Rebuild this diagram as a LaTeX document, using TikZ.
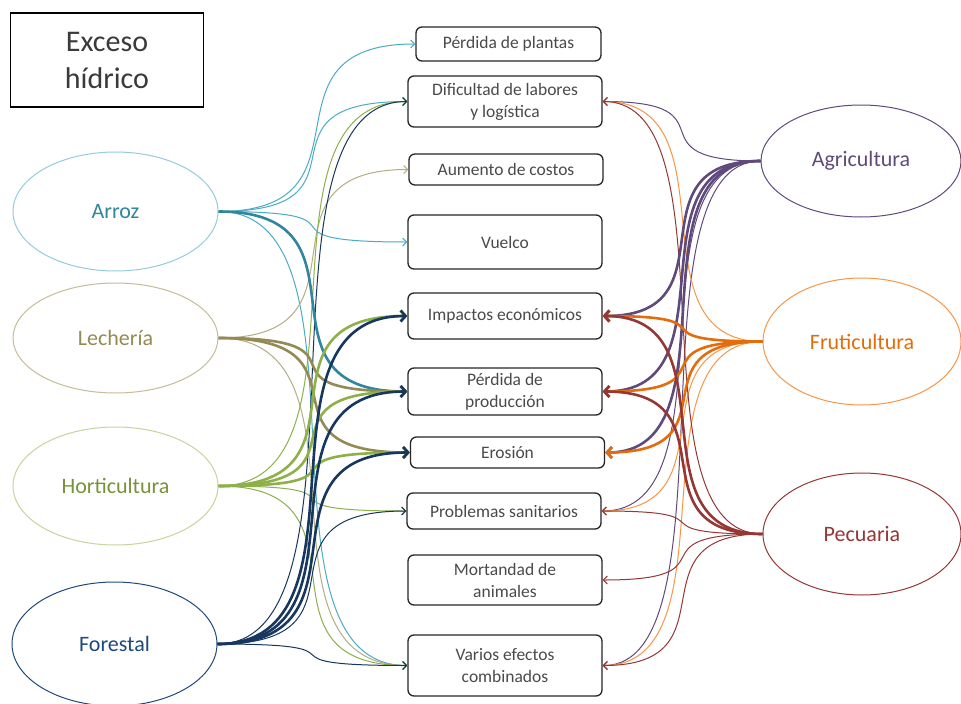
\documentclass[tikz,border=0pt]{standalone}
\usepackage{fontspec}
\setmainfont{Carlito}
\usetikzlibrary{shapes.geometric,arrows.meta}
\definecolor{cArroz}{HTML}{31859C}
\definecolor{cArrozL}{HTML}{4BACC6}
\definecolor{cArrozE}{HTML}{93CDDD}
\definecolor{cLech}{HTML}{948A54}
\definecolor{cLechL}{HTML}{B5AD85}
\definecolor{cLechE}{HTML}{C4BD97}
\definecolor{cHort}{HTML}{77933C}
\definecolor{cHortL}{HTML}{8DB048}
\definecolor{cHortE}{HTML}{C3D69B}
\definecolor{cFor}{HTML}{17375E}
\definecolor{cForT}{HTML}{1F497D}
\definecolor{cAgri}{HTML}{604A7B}
\definecolor{cFrut}{HTML}{E46C0A}
\definecolor{cFrutL}{HTML}{F79646}
\definecolor{cPec}{HTML}{953735}
\definecolor{boxc}{HTML}{262626}
\definecolor{boxtext}{HTML}{4A4A4A}
\definecolor{exc}{HTML}{3A3A3A}
\begin{document}
\begin{tikzpicture}[x=1pt,y=-1pt,
  box/.style={draw=boxc, line width=1.3pt, rounded corners=6pt, minimum width=194pt,
    inner sep=0pt, align=center, text=boxtext, font=\fontsize{17.5}{22}\selectfont},
  ell/.style={ellipse, line width=1pt, minimum width=205pt, inner sep=0pt,
    font=\fontsize{22}{26}\selectfont},
  lt/.style={line width=1pt, -{Straight Barb[length=4pt,width=8pt]}, out=0, in=180, distance=165pt},
  lk/.style={line width=2.6pt, -{Straight Barb[length=5pt,width=11pt]}, out=0, in=180, distance=165pt},
  rt/.style={line width=1pt, -{Straight Barb[length=4pt,width=8pt]}, out=180, in=0, distance=135pt},
  rk/.style={line width=2.6pt, -{Straight Barb[length=5pt,width=11pt]}, out=180, in=0, distance=135pt}]
\useasboundingbox (0,0) rectangle (961,704);
\fill[white] (0,0) rectangle (961,704);

\node[draw=black, line width=1.3pt, minimum width=193pt, minimum height=94pt, inner sep=0pt,
  align=center, text=exc, font=\fontsize{30}{37}\selectfont] (exc) at (107,60) {Exceso\\hídrico};

\node[box, minimum width=185pt, minimum height=34pt] (b1) at (508.5,44) {Pérdida de plantas};
\node[box, minimum height=51pt] (b2) at (505,101.5) {Dificultad de labores\\y logística};
\node[box, minimum height=31pt] (b3) at (506,169.5) {Aumento de costos};
\node[box, minimum height=54pt] (b4) at (505,242) {Vuelco};
\node[box, minimum height=46pt] (b5) at (505,316) {Impactos económicos};
\node[box, minimum height=47pt] (b6) at (505,391.5) {Pérdida de\\producción};
\node[box, minimum height=31pt] (b7) at (507.5,452.5) {Erosión};
\node[box, minimum height=36pt] (b8) at (504,511) {Problemas sanitarios};
\node[box, minimum height=50pt] (b9) at (505,580) {Mortandad de\\animales};
\node[box, minimum height=61pt] (b10) at (505,665.5) {Varios efectos\\combinados};

\node[ell, draw=cArrozE, text=cArroz, minimum height=119pt] (arroz) at (115.5,211.5) {Arroz};
\node[ell, draw=cLechE, text=cLech, minimum height=110pt] (lech) at (115.5,338) {Lechería};
\node[ell, draw=cHortE, text=cHort, minimum height=118pt] (hort) at (115.5,486) {Horticultura};
\node[ell, draw=cForT, text=cForT, minimum height=124pt] (fore) at (114.5,644) {Forestal};
\node[ell, draw=cAgri, text=cAgri, minimum width=200pt, minimum height=112pt] (agri) at (861,161) {Agricultura};
\node[ell, draw=cFrutL, text=cFrut, minimum width=198pt, minimum height=127pt] (frut) at (862,341.5) {Fruticultura};
\node[ell, draw=cPec, text=cPec, minimum width=198pt, minimum height=122pt] (pec) at (862,534) {Pecuaria};

% left thin
\draw[lt, cArrozL] (arroz.east) to (b1.west);
\draw[lt, cArrozL] (arroz.east) to (b2.west);
\draw[lt, cArrozL] (arroz.east) to (b4.west);
\draw[lt, cArrozL] (arroz.east) to (b10.west);
\draw[lt, cLechL] (lech.east) to (b3.west);
\draw[lt, cLechL] (lech.east) to (b10.west);
\draw[lt, cHortL] (hort.east) to (b2.west);
\draw[lt, cHortL] (hort.east) to (b8.west);
\draw[lt, cHortL] (hort.east) to (b10.west);
\draw[lt, cFor] (fore.east) to (b2.west);
\draw[lt, cFor] (fore.east) to (b8.west);
\draw[lt, cFor] (fore.east) to (b10.west);
% left thick
\draw[lk, cArroz] (arroz.east) to (b6.west);
\draw[lk, cLech] (lech.east) to (b6.west);
\draw[lk, cLech] (lech.east) to (b7.west);
\draw[lk, cHortL] (hort.east) to (b5.west);
\draw[lk, cHortL] (hort.east) to (b6.west);
\draw[lk, cHortL] (hort.east) to (b7.west);
\draw[lk, cFor] (fore.east) to (b5.west);
\draw[lk, cFor] (fore.east) to (b6.west);
\draw[lk, cFor] (fore.east) to (b7.west);

% right thin
\draw[rt, cAgri] (agri.west) to (b2.east);
\draw[rt, cAgri] (agri.west) to (b8.east);
\draw[rt, cAgri] (agri.west) to (b10.east);
\draw[rt, cFrutL] (frut.west) to (b2.east);
\draw[rt, cFrutL] (frut.west) to (b8.east);
\draw[rt, cFrutL] (frut.west) to (b10.east);
\draw[rt, cPec] (pec.west) to (b2.east);
\draw[rt, cPec] (pec.west) to (b8.east);
\draw[rt, cPec] (pec.west) to (b9.east);
\draw[rt, cPec] (pec.west) to (b10.east);
% right thick
\draw[rk, cAgri] (agri.west) to (b5.east);
\draw[rk, cAgri] (agri.west) to (b6.east);
\draw[rk, cAgri] (agri.west) to (b7.east);
\draw[rk, cFrut] (frut.west) to (b5.east);
\draw[rk, cFrut] (frut.west) to (b6.east);
\draw[rk, cFrut] (frut.west) to (b7.east);
\draw[rk, cPec] (pec.west) to (b5.east);
\draw[rk, cPec] (pec.west) to (b6.east);
\end{tikzpicture}
\end{document}
